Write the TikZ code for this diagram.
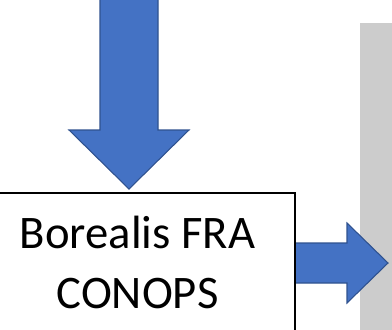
\documentclass[tikz,border=0pt]{standalone}
\usepackage{fontspec}
\setmainfont{Carlito}
\usepackage{tikz}

\definecolor{arrowblue}{HTML}{4472C4}
\definecolor{arrowedge}{HTML}{2F528F}
\definecolor{panelgray}{HTML}{CCCCCC}

\tikzset{
  blockarrow/.style={fill=arrowblue, draw=arrowedge, line width=0.8pt, line join=miter},
  conopsbox/.style={draw=black, line width=2pt, fill=white, inner sep=0pt},
  conopstext/.style={align=center, font=\fontsize{35}{45}\selectfont, inner sep=0pt}
}

\begin{document}
\begin{tikzpicture}[x=0.75pt, y=-0.75pt]
        \useasboundingbox (0,0) rectangle (392,329);
        \clip (0,0) rectangle (392,329);
        \fill [panelgray]           (360,23) rectangle (400,340);                 %panel
        \draw [blockarrow]          (100,-5) -- (100,130) -- (69,130) -- (129,189)
                                    -- (189,130) -- (158,130) -- (158,-5) -- cycle; %down
        \draw [blockarrow]          (295,243) -- (347,243) -- (347,223) -- (388,263)
                                    -- (347,303) -- (347,283) -- (295,283) -- cycle; %right
        \draw [conopsbox]           (-21,193) rectangle (295,340);                %box
        \node [conopstext] (conops) at (137.5,262) {Borealis FRA\\CONOPS};        %
\end{tikzpicture}
\end{document}
